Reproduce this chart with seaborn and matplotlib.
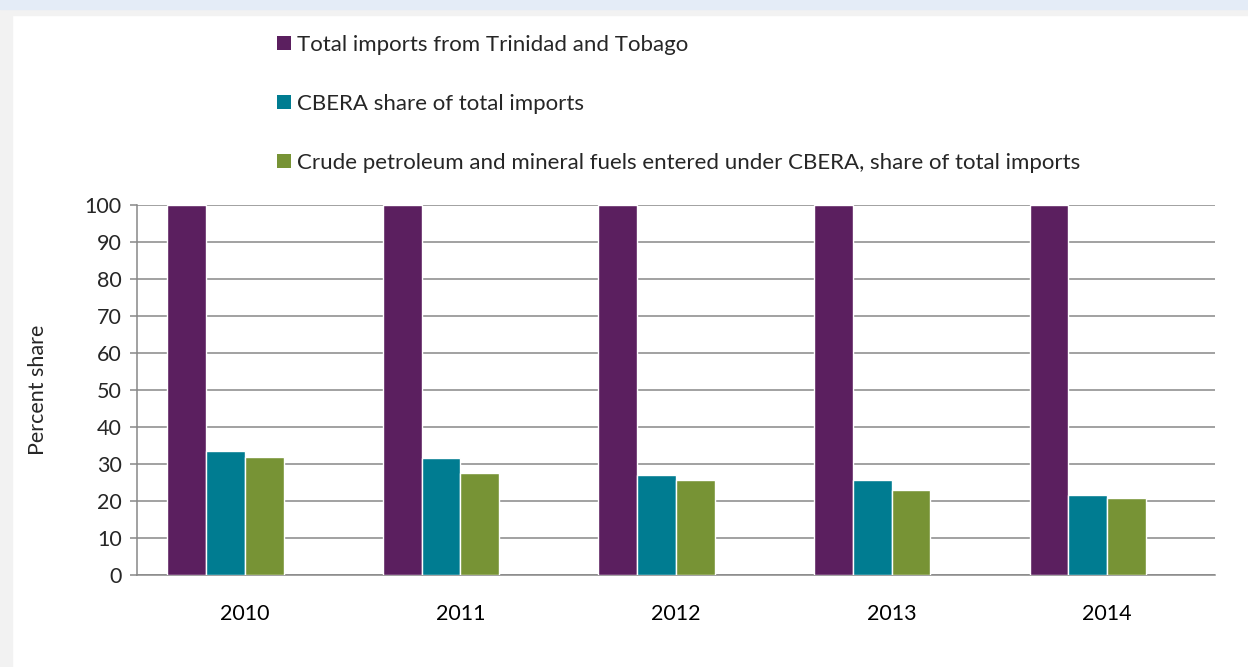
import pandas as pd
import matplotlib.pyplot as plt
import seaborn as sns
from matplotlib.patches import Patch, Rectangle

# data
years = ["2010", "2011", "2012", "2013", "2014"]
total_imports = [100, 100, 100, 100, 100]
cbera_share = [33.6, 31.7, 26.9, 25.7, 21.7]
fuels_share = [32.0, 27.6, 25.7, 23.0, 20.8]

series_names = [
    "Total imports from Trinidad and Tobago",
    "CBERA share of total imports",
    "Crude petroleum and mineral fuels entered under CBERA, share of total imports",
]
colors = ["#5B1F5F", "#007C91", "#779335"]

df = pd.DataFrame({
    "Year": years * 3,
    "Series": [series_names[0]] * 5 + [series_names[1]] * 5 + [series_names[2]] * 5,
    "Value": total_imports + cbera_share + fuels_share,
})

sns.set_style("white")
plt.rcParams["font.family"] = ["Lato", "DejaVu Sans"]

fig = plt.figure(figsize=(12.48, 6.67), dpi=100)
fig.patch.set_facecolor("white")
# page frame like the source document
fig.patches.append(Rectangle((0, 0), 12 / 1248, 1, transform=fig.transFigure, color="#F2F2F2", zorder=0))
fig.patches.append(Rectangle((0, 1 - 15 / 667), 1, 15 / 667, transform=fig.transFigure, color="#F2F2F2", zorder=0))
fig.patches.append(Rectangle((0, 1 - 9 / 667), 1, 9 / 667, transform=fig.transFigure, color="#E4ECF7", zorder=0))

ax = fig.add_axes([137 / 1248, 1 - 575 / 667, 1078 / 1248, 370 / 667])
# Excel cluster keeps a slot for a hidden fourth series
hue_order = series_names + [" "]
palette = dict(zip(hue_order, colors + ["white"]))
sns.barplot(data=df, x="Year", y="Value", hue="Series", hue_order=hue_order,
            palette=palette, width=0.72, saturation=1, ax=ax, legend=False, zorder=3)

ax.set_xlim(-0.5, 4.5)
ax.set_ylim(0, 100)
ax.set_yticks(range(0, 101, 10))
ax.yaxis.grid(True, color="#888888", linewidth=1.1, zorder=0)
ax.set_axisbelow(True)
for s in ["top", "right"]:
    ax.spines[s].set_visible(False)
for s in ["left", "bottom"]:
    ax.spines[s].set_color("#888888")
    ax.spines[s].set_linewidth(1.1)

ax.set_xticks([-0.5, 0.5, 1.5, 2.5, 3.5, 4.5], minor=True)
ax.tick_params(axis="x", which="major", length=0, labelsize=15.5, pad=21, colors="black")
ax.tick_params(axis="x", which="minor", length=5, width=1.1, color="#888888", direction="out")
ax.tick_params(axis="y", which="major", length=5, width=1.1, color="#888888", direction="out",
               labelsize=15.5, pad=6, left=True)
ax.set_xlabel("")
ax.set_ylabel("Percent share", fontsize=15.5, labelpad=26)

handles = [Patch(facecolor=c, edgecolor="none") for c in colors]
fig.legend(handles, series_names, loc="upper left", bbox_to_anchor=(268 / 1248, 1 - 26 / 667),
           frameon=False, fontsize=16, handlelength=0.62, handleheight=0.62,
           handletextpad=0.3, labelspacing=1.75, borderaxespad=0)

fig.savefig("out.png", dpi=100)
